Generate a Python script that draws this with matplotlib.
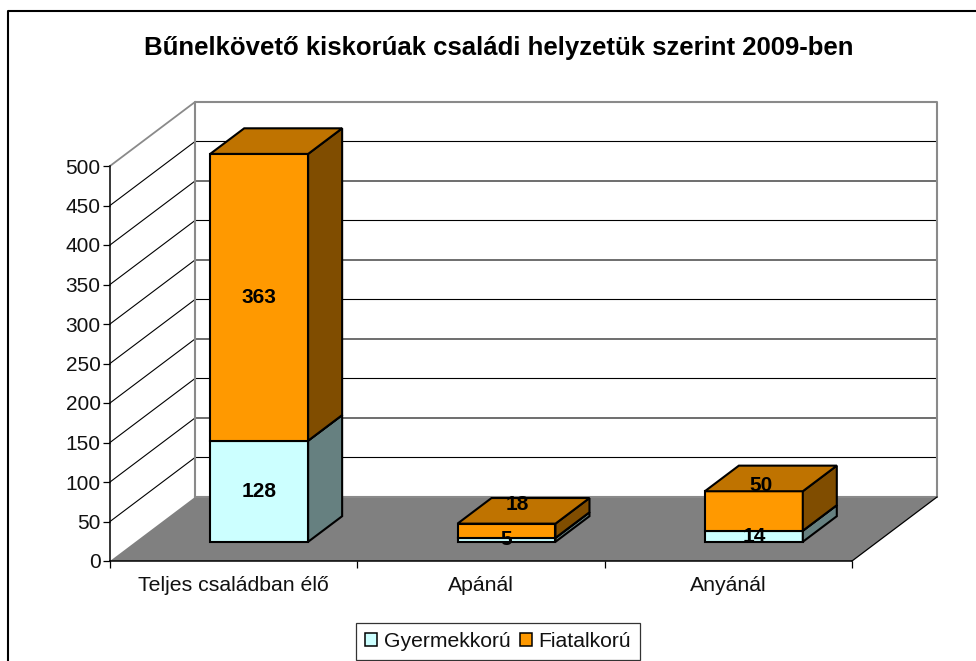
import matplotlib
matplotlib.use("Agg")
import matplotlib.pyplot as plt
from matplotlib.patches import Polygon, Patch
from matplotlib.lines import Line2D

plt.rcParams['font.family'] = ['Liberation Sans', 'DejaVu Sans']

title = "Bűnelkövető kiskorúak családi helyzetük szerint 2009-ben"
categories = ["Teljes családban élő", "Apánál", "Anyánál"]
gyermekkoru = [128, 5, 14]
fiatalkoru = [363, 18, 50]
y_ticks = [0, 50, 100, 150, 200, 250, 300, 350, 400, 450, 500]
series_names = ["Gyermekkorú", "Fiatalkorú"]

W, H = 976, 661
fig = plt.figure(figsize=(W / 100, H / 100), dpi=100, facecolor='white')
L, R, T, B = 110, 852, 166, 561
ax = fig.add_axes([L / W, 1 - B / H, (R - L) / W, (B - T) / H])
ax.set_xlim(0, 3)
ax.set_ylim(0, 500)
ax.patch.set_alpha(0)

DX = 85 / ((R - L) / 3)
DY = 64 / ((B - T) / 500)


def pt(x, y, z):
    return (x + DX * z, y + DY * z)


def poly(points, face, edge='black', lw=1.5, z=3, join='miter'):
    ax.add_patch(Polygon(points, closed=True, facecolor=face, edgecolor=edge,
                         linewidth=lw, zorder=z, clip_on=False, joinstyle=join))


# walls and floor
poly([pt(0, 0, 0), pt(3, 0, 0), pt(3, 0, 1), pt(0, 0, 1)], '#808080', edge='none', lw=0, z=1)
for v in y_ticks[1:-1]:
    ax.plot(*zip(pt(0, v, 0), pt(0, v, 1), pt(3, v, 1)), color='black', lw=0.8,
            zorder=1.5, clip_on=False)
gray = '#8a8a8a'
ax.plot(*zip(pt(0, 0, 1), pt(0, 500, 1), pt(3, 500, 1), pt(3, 0, 1), pt(0, 0, 1)),
        color=gray, lw=1.5, zorder=1.6, clip_on=False)
ax.plot(*zip(pt(0, 500, 0), pt(0, 500, 1)), color=gray, lw=1.3, zorder=1.6, clip_on=False)
ax.plot(*zip(pt(3, 0, 0), pt(3, 0, 1)), color='black', lw=0.9, zorder=1.7, clip_on=False)

# bars
WIDTH = 0.396
Z0, Z1 = 0.30, 0.70
palettes = [('#CCFFFF', '#CCFFFF', '#668080'), ('#FF9900', '#BF7300', '#804D00')]
# hand-moved labels in the original: (series index, category index) -> pixel offset
label_shift = {(1, 1): (11, 26), (1, 2): (7, 25)}
for i in range(len(categories)):
    x0 = i + 0.5 - WIDTH / 2
    x1 = x0 + WIDTH
    base = 0
    for s, (vals, (front, top, side)) in enumerate(zip((gyermekkoru, fiatalkoru), palettes)):
        v0, v1 = base, base + vals[i]
        poly([pt(x0, v0, Z0), pt(x1, v0, Z0), pt(x1, v1, Z0), pt(x0, v1, Z0)], front, z=3 + i)
        poly([pt(x1, v0, Z0), pt(x1, v0, Z1), pt(x1, v1, Z1), pt(x1, v1, Z0)], side, z=3 + i)
        poly([pt(x0, v1, Z0), pt(x1, v1, Z0), pt(x1, v1, Z1), pt(x0, v1, Z1)], top, z=3 + i)
        lx, ly = pt(i + 0.5, (v0 + v1) / 2, Z0)
        dx, dy = label_shift.get((s, i), (0, 0))
        ax.annotate(str(vals[i]), (lx, ly), xytext=(dx * 0.72, dy * 0.72),
                    textcoords='offset points', ha='center', va='center', fontsize=15,
                    fontweight='bold', color='black', zorder=10, annotation_clip=False)
        base = v1

# axes
for s in ('top', 'right'):
    ax.spines[s].set_visible(False)
for s in ('left', 'bottom'):
    ax.spines[s].set_linewidth(1.1)
    ax.spines[s].set_zorder(2)
ax.set_yticks(y_ticks)
ax.set_xticks([0, 1, 2, 3])
ax.set_xticklabels([])
ax.set_xticks([0.5, 1.5, 2.5], minor=True)
ax.set_xticklabels(categories, minor=True)
ax.tick_params(axis='x', which='major', length=5.0, width=0.9, color='black')
ax.tick_params(axis='x', which='minor', length=0, pad=11, labelsize=15.3, labelcolor='#111111')
ax.tick_params(axis='y', length=4.8, width=0.9, pad=2, labelsize=15, labelcolor='#111111')

fig.text(499 / W, 1 - 48 / H, title, ha='center', va='center', fontsize=18.5,
         fontweight='bold', color='black')

handles = [Patch(facecolor=palettes[0][0], edgecolor='black', linewidth=1.1),
           Patch(facecolor=palettes[1][0], edgecolor='black', linewidth=1.1)]
leg = fig.legend(handles, series_names, loc='center', bbox_to_anchor=(498 / W, 1 - 641.5 / H),
                 ncol=2, fontsize=15.2, frameon=True, fancybox=False, edgecolor='#333333',
                 framealpha=1, handlelength=0.57, handleheight=0.57, handletextpad=0.3,
                 columnspacing=0.45, borderpad=0.42, borderaxespad=0, labelspacing=0)
leg.get_frame().set_linewidth(0.9)
for t in leg.get_texts():
    t.set_color('#111111')

# chart frame
fig.add_artist(Line2D([8 / W, 8 / W, 1], [0, 1 - 10.5 / H, 1 - 10.5 / H], color='black', lw=1.5,
                      transform=fig.transFigure))

fig.savefig('out.png', dpi=100)
